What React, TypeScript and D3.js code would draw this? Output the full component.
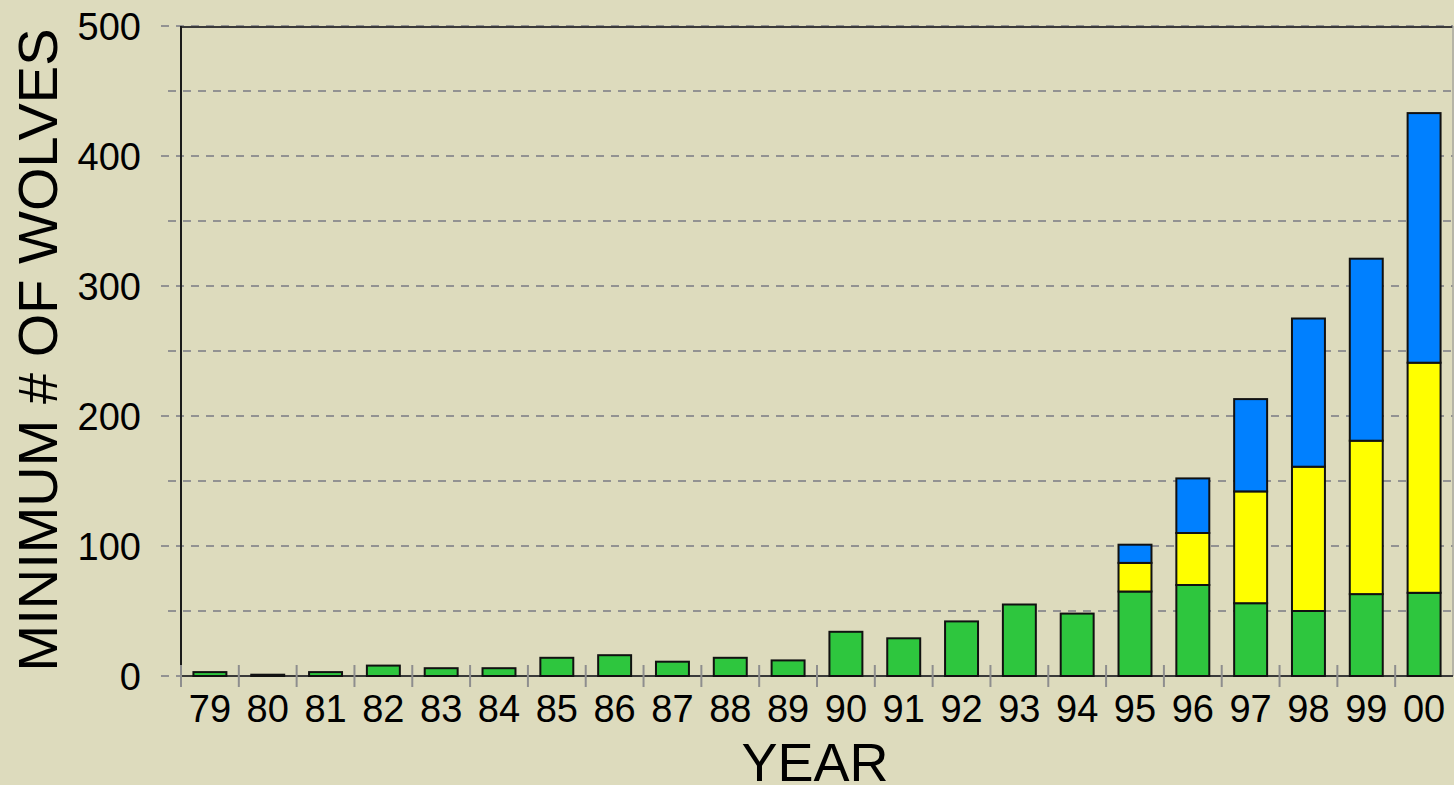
import React from "react";
import * as d3 from "d3";

// years on the x axis
const years = ["79", "80", "81", "82", "83", "84", "85", "86", "87", "88", "89",
  "90", "91", "92", "93", "94", "95", "96", "97", "98", "99", "00"];

// stacked series, bottom to top
const montana = [3, 1, 3, 8, 6, 6, 14, 16, 11, 14, 12, 34, 29, 42, 55, 48, 65, 70, 56, 50, 63, 64];
const yellowstone = [0, 0, 0, 0, 0, 0, 0, 0, 0, 0, 0, 0, 0, 0, 0, 0, 22, 40, 86, 111, 118, 177];
const idaho = [0, 0, 0, 0, 0, 0, 0, 0, 0, 0, 0, 0, 0, 0, 0, 0, 14, 42, 71, 114, 140, 192];

const yTicks = [0, 100, 200, 300, 400, 500];
const yMinor = [50, 150, 250, 350, 450];

const seriesKeys = ["montana", "yellowstone", "idaho"];
const colors = ["#2ec63e", "#ffff00", "#0080ff"];

const width = 1454;
const height = 785;

const Chart = () => {
  const left = 181;
  const right = 1453;
  const top = 26;
  const bottom = 676;

  const rows = years.map((y, i) => ({
    year: y,
    montana: montana[i],
    yellowstone: yellowstone[i],
    idaho: idaho[i],
  }));

  const stack = d3.stack().keys(seriesKeys);
  const layers = stack(rows as any);

  const x = d3.scaleBand().domain(years).range([left, right]).paddingInner(0.43).paddingOuter(0.215);
  const xStep = d3.scaleBand().domain(years).range([left, right]).padding(0);
  const y = d3.scaleLinear().domain([0, 500]).range([bottom, top]);

  const font = "'Liberation Sans', Arial, sans-serif";

  return (
    <svg width={width} height={height} style={{ position: "absolute", left: 0, top: 0, display: "block" }}>
      <rect width={width} height={height} fill="#dddbbd" />

      {/* gridlines */}
      <g stroke="#929292" strokeWidth={2} strokeDasharray="8,7">
        {yTicks.map(t => (
          <line key={`g${t}`} x1={161} x2={right} y1={y(t)} y2={y(t)} />
        ))}
        {yMinor.map(t => (
          <line key={`m${t}`} x1={168} x2={right} y1={y(t)} y2={y(t)} />
        ))}
      </g>

      {/* frame */}
      <line x1={left} x2={right} y1={top + 1} y2={top + 1} stroke="#3a3a3a" strokeWidth={2} />
      <line x1={right} x2={right} y1={top} y2={bottom} stroke="#a8a8a0" strokeWidth={1.5} />
      <line x1={left} x2={left} y1={top} y2={bottom} stroke="#1a1a1a" strokeWidth={2} />
      <line x1={left} x2={right} y1={bottom} y2={bottom} stroke="#3a3a3a" strokeWidth={2} />

      {/* bars */}
      {layers.map((layer, li) => (
        <g key={seriesKeys[li]} fill={colors[li]} stroke="#111" strokeWidth={2}>
          {layer.map((d, i) => {
            const h = y(d[0]) - y(d[1]);
            if (h <= 0) return null;
            return (
              <rect
                key={years[i]}
                x={x(years[i])}
                y={y(d[1])}
                width={x.bandwidth()}
                height={h}
              />
            );
          })}
        </g>
      ))}

      {/* x ticks */}
      <g stroke="#8e8e8e" strokeWidth={2}>
        {years.map(yr => (
          <line key={yr} x1={xStep(yr)} x2={xStep(yr)} y1={665} y2={687} />
        ))}
      </g>

      {/* labels */}
      <g fontFamily={font} fontSize={38} fill="#000">
        {yTicks.map(t => (
          <text key={t} x={141} y={y(t)} dy="0.36em" textAnchor="end">{t}</text>
        ))}
        {years.map(yr => (
          <text key={yr} x={(xStep(yr) as number) + xStep.bandwidth() / 2} y={722} textAnchor="middle">{yr}</text>
        ))}
      </g>

      <text x={815} y={781} textAnchor="middle" fontFamily={font} fontSize={54} fill="#000">YEAR</text>
      <text
        transform={`translate(57,350) rotate(-90)`}
        textAnchor="middle"
        fontFamily={font}
        fontSize={56}
        fill="#000"
      >
        MINIMUM # OF WOLVES
      </text>
    </svg>
  );
};

export default function App() {
  return <Chart />;
}
